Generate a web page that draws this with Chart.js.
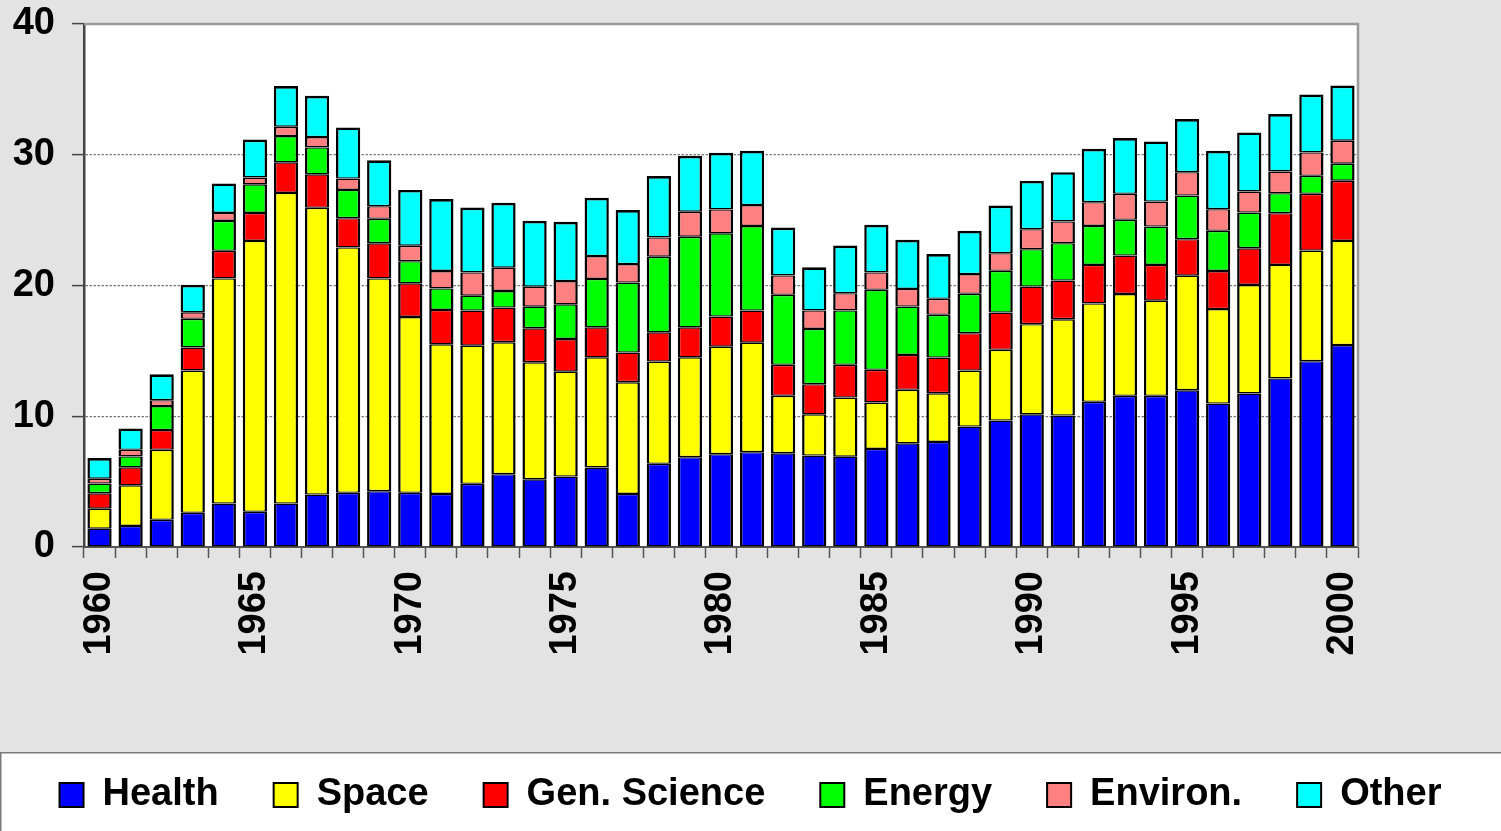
<!DOCTYPE html>
<html>
<head>
<meta charset="utf-8">
<script src="https://cdn.jsdelivr.net/npm/chart.js@4"></script>
<style>
html,body{margin:0;padding:0;background:#e3e3e3;}
#wrap{width:1501px;height:831px;}
</style>
</head>
<body>
<div id="wrap"><canvas id="c" width="1501" height="831"></canvas></div>
<script>
const years = ['1960','1961','1962','1963','1964','1965','1966','1967','1968','1969','1970','1971','1972','1973','1974','1975','1976','1977','1978','1979','1980','1981','1982','1983','1984','1985','1986','1987','1988','1989','1990','1991','1992','1993','1994','1995','1996','1997','1998','1999','2000'];
const yTicks = [0,10,20,30,40];
const health = [1.4,1.61,2.08,2.61,3.32,2.69,3.32,4.01,4.14,4.27,4.14, 4.06,4.83,5.57,5.18,5.39,6.08,4.06,6.36,6.87,7.1,7.25, 7.17,6.99,6.91,7.5,7.93,8.04,9.21,9.67,10.15,10.05, 11.1,11.56,11.56,11.99,10.97,11.74,12.89,14.21,15.44];
const space = [1.53,3.11,5.35,10.89,17.22,20.72,23.76,21.93,18.77,16.27,13.45, 11.44,10.57,10.09,8.95,8.02,8.43,8.54,7.82,7.64,8.22,8.38, 4.39,3.16,4.52,3.55,4.09,3.72,4.28,5.41,6.89,7.37, 7.53,7.79,7.28,8.76,7.23,8.3,8.68,8.46,7.97];
const genScience = [1.18,1.37,1.51,1.76,2.11,2.14,2.34,2.56,2.24,2.69,2.58, 2.63,2.68,2.65,2.6,2.5,2.29,2.27,2.24,2.29,2.3,2.45, 2.37,2.3,2.5,2.5,2.67,2.73,2.86,2.85,2.88,2.96, 2.94,2.94,2.73,2.79,2.91,2.81,3.96,4.34,4.6];
const energy = [0.74,0.84,1.84,2.19,2.29,2.19,2.01,2.06,2.16,1.87,1.69, 1.65,1.14,1.27,1.65,2.65,3.7,5.35,5.78,6.93,6.37,6.47, 5.36,4.23,4.16,6.12,3.7,3.27,3.01,3.19,2.86,2.86, 2.99,2.73,2.94,3.34,3.07,2.73,1.53,1.38,1.3];
const environ = [0.37,0.5,0.45,0.5,0.61,0.52,0.71,0.79,0.87,0.97,1.18, 1.33,1.78,1.78,1.53,1.78,1.75,1.42,1.48,1.91,1.83,1.6, 1.48,1.41,1.32,1.33,1.35,1.22,1.51,1.35,1.53,1.66, 1.81,1.99,1.91,1.79,1.66,1.61,1.66,1.79,1.76];
const other = [1.58,1.64,1.98,2.11,2.26,2.9,3.11,3.16,3.91,3.51,4.27, 5.5,4.97,4.97,5.04,4.54,4.46,4.13,4.69,4.28,4.33,4.15, 3.67,3.31,3.65,3.64,3.75,3.42,3.31,3.65,3.7,3.77, 4.09,4.27,4.6,4.06,4.47,4.52,4.4,4.42,4.22];
const seriesNames = ['Health','Space','Gen. Science','Energy','Environ.','Other'];
const seriesColors = ['#0000ff','#ffff00','#ff0000','#00ff00','#ff8080','#00ffff'];
const seriesData = [health, space, genScience, energy, environ, other];

Chart.defaults.color = '#000';
Chart.defaults.font.family = '"Liberation Sans", Arial, sans-serif';

const bgPlugin = {
  id: 'bg',
  beforeDraw(chart) {
    const {ctx, chartArea: a} = chart;
    ctx.save();
    ctx.fillStyle = '#e3e3e3';
    ctx.fillRect(0, 0, chart.width, chart.height);
    ctx.fillStyle = '#ffffff';
    ctx.fillRect(a.left, a.top, a.right - a.left, a.bottom - a.top);
    ctx.fillRect(0, 752, chart.width, chart.height - 752);
    ctx.strokeStyle = '#7a7a7a';
    ctx.lineWidth = 1.5;
    ctx.beginPath();
    ctx.moveTo(0.75, chart.height);
    ctx.lineTo(0.75, 752.75);
    ctx.lineTo(chart.width, 752.75);
    ctx.stroke();
    ctx.restore();
  },
  afterDatasetsDraw(chart) {
    const {ctx, chartArea: a} = chart;
    ctx.save();
    ctx.strokeStyle = '#9a9a9a';
    ctx.lineWidth = 2.5;
    ctx.beginPath();
    ctx.moveTo(a.left, a.top);
    ctx.lineTo(a.right, a.top);
    ctx.lineTo(a.right, a.bottom);
    ctx.stroke();
    ctx.restore();
  }
};

const last = seriesNames.length - 1;
new Chart(document.getElementById('c'), {
  type: 'bar',
  data: {
    labels: years,
    datasets: seriesNames.map((n, i) => ({
      label: n,
      data: seriesData[i],
      backgroundColor: seriesColors[i],
      borderColor: '#000',
      borderWidth: {left: 2.5, right: 2.5, top: i === last ? 2.7 : 1.4, bottom: 1.4},
      borderSkipped: false,
      categoryPercentage: 1.0,
      barPercentage: 0.78
    }))
  },
  options: {
    responsive: false,
    animation: false,
    devicePixelRatio: 1,
    layout: {padding: {top: 24, right: 0, bottom: 7, left: 0}},
    plugins: {
      tooltip: {enabled: false},
      legend: {
        position: 'bottom',
        labels: {
          boxWidth: 24,
          boxHeight: 24,
          padding: 55,
          color: '#000',
          font: {size: 38, weight: 'bold'},
          generateLabels(chart) {
            return chart.data.datasets.map((d, i) => ({
              text: d.label,
              fillStyle: d.backgroundColor,
              strokeStyle: '#000',
              lineWidth: 2,
              hidden: false,
              datasetIndex: i,
              fontColor: '#000'
            }));
          }
        }
      }
    },
    scales: {
      x: {
        stacked: true,
        afterFit(s) { s.height = 174; },
        grid: {
          display: true,
          offset: true,
          drawOnChartArea: false,
          drawTicks: true,
          tickLength: 11,
          tickColor: '#555',
          tickWidth: 1.5
        },
        border: {display: true, color: '#555', width: 2},
        ticks: {
          autoSkip: false,
          minRotation: 90,
          maxRotation: 90,
          padding: 13,
          color: '#000',
          font: {size: 38, weight: 'bold'},
          callback(v, i) { const y = years[i]; return (+y) % 5 === 0 ? y : ''; }
        }
      },
      y: {
        stacked: true,
        min: 0,
        max: 40,
        afterFit(s) { s.width = 84; s.paddingTop = 0; s.paddingBottom = 0; },
        afterBuildTicks(s) { s.ticks = yTicks.map(v => ({value: v})); },
        grid: {
          color(ctx) { const v = ctx.tick && ctx.tick.value; return (v === 0 || v === 40) ? 'rgba(0,0,0,0)' : '#7a7a7a'; },
          lineWidth: 1.2,
          drawTicks: true,
          tickLength: 12,
          tickColor: '#444',
          tickWidth: 1.5
        },
        border: {display: true, color: '#444', width: 2.5, dash: [2.5, 1.5]},
        ticks: {
          padding: 17,
          color: '#000',
          font: {size: 38, weight: 'bold'}
        }
      },
      yRight: {
        position: 'right',
        display: true,
        afterFit(s) { s.width = 143; },
        grid: {display: false, drawTicks: false},
        border: {display: false},
        ticks: {display: false}
      }
    }
  },
  plugins: [bgPlugin]
});
</script>
</body>
</html>
